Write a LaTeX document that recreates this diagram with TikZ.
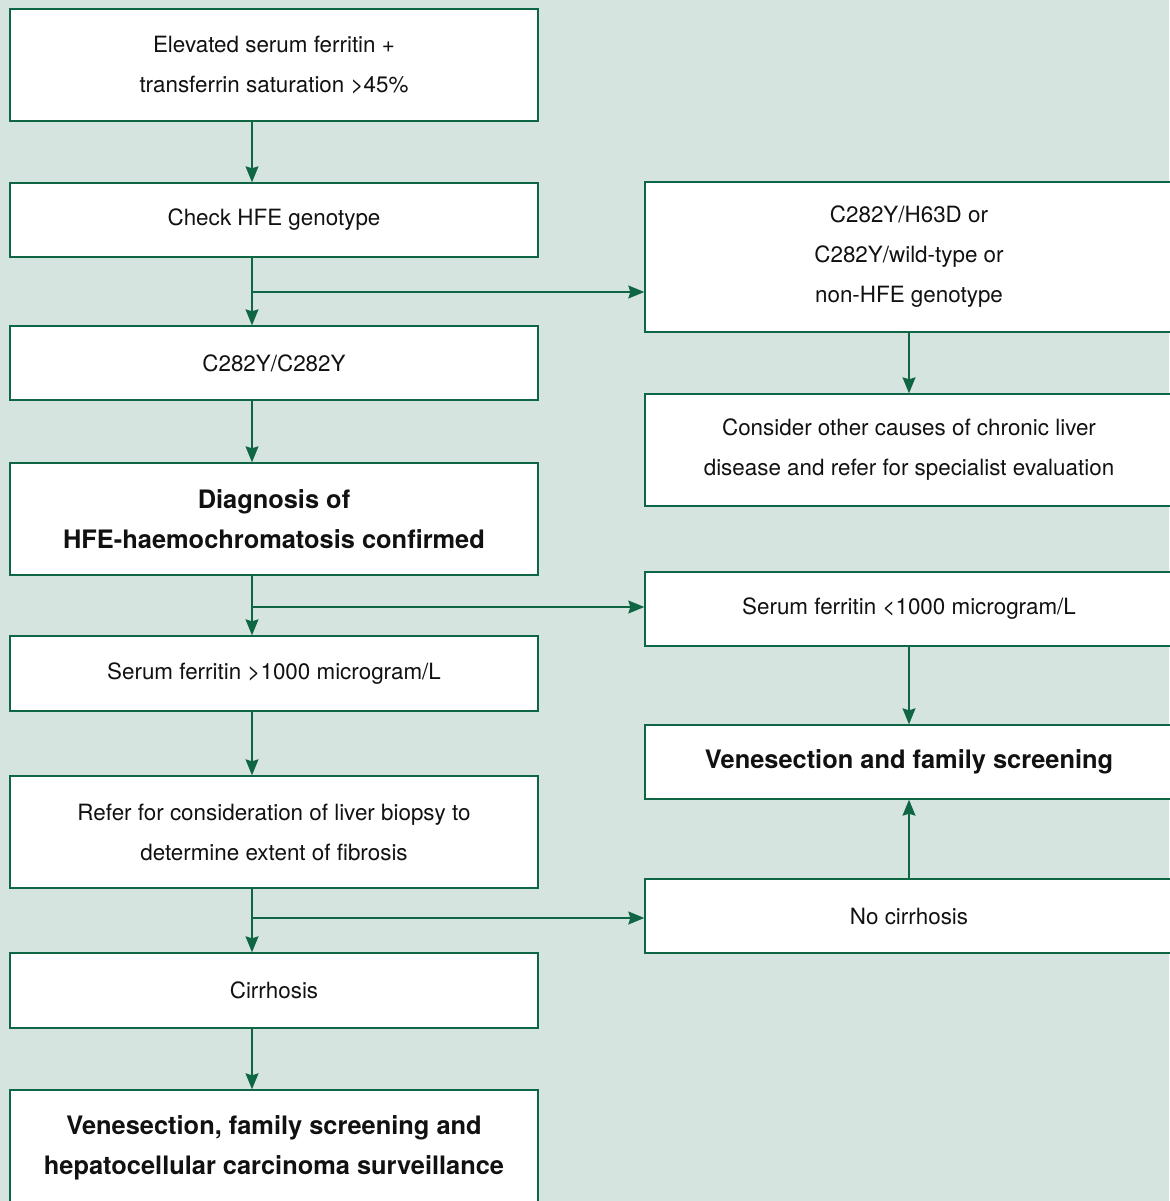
\documentclass[tikz,border=0pt]{standalone}
\usepackage{fontspec}
\setmainfont{TeX Gyre Heros}
\usetikzlibrary{arrows.meta,calc}
\definecolor{bg}{HTML}{D5E4DE}
\definecolor{dgreen}{HTML}{0F6645}
\definecolor{txt}{HTML}{111111}
\tikzset{
  box/.style={draw=dgreen, line width=1.4pt, fill=white, inner sep=0pt,
    minimum width=528pt, align=center, text=txt,
    font=\fontsize{22.4}{40}\selectfont},
  rbox/.style={box, minimum width=528pt},
  boldbox/.style={font=\fontsize{25.4}{40}\selectfont\bfseries},
  conn/.style={draw=dgreen, line width=1.3pt, -{Stealth[length=16pt,width=13pt,inset=2pt]}}
}
\begin{document}
\begin{tikzpicture}[x=1pt,y=-1pt]
\fill[bg] (0,0) rectangle (1169,1201);
\useasboundingbox (0,0) rectangle (1169,1201);
% left column
\node[box, minimum height=112pt] (l1) at (274,65) {Elevated serum ferritin +\\transferrin saturation >45\%};
\node[box, minimum height=74pt] (l2) at (274,220) {Check HFE genotype};
\node[box, minimum height=74pt] (l3) at (274,363) {C282Y/C282Y};
\node[box, boldbox, minimum height=112pt] (l4) at (274,519) {Diagnosis of\\HFE-haemochromatosis confirmed};
\node[box, minimum height=75pt] (l5) at (274,673.5) {Serum ferritin >1000 microgram/L};
\node[box, minimum height=112pt] (l6) at (274,832) {Refer for consideration of liver biopsy to\\determine extent of fibrosis};
\node[box, minimum height=75pt] (l7) at (274,990.5) {Cirrhosis};
\node[box, boldbox, minimum height=116pt] (l8) at (274,1148) {Venesection, family screening and\\hepatocellular carcinoma surveillance};
% right column
\node[rbox, minimum height=150pt] (r1) at (909,257) {C282Y/H63D or\\C282Y/wild-type or\\non-HFE genotype};
\node[rbox, minimum height=112pt] (r2) at (909,450) {Consider other causes of chronic liver\\disease and refer for specialist evaluation};
\node[rbox, minimum height=74pt] (r3) at (909,609) {Serum ferritin <1000 microgram/L};
\node[rbox, boldbox, minimum height=74pt] (r4) at (909,762) {Venesection and family screening};
\node[rbox, minimum height=74pt] (r5) at (909,916) {No cirrhosis};
% connectors
\coordinate (lx) at (252,0);
\draw[conn] (l1.south -| lx) -- (l2.north -| lx);
\draw[conn] (l2.south -| lx) -- (l3.north -| lx);
\draw[conn] (l3.south -| lx) -- (l4.north -| lx);
\draw[conn] (l4.south -| lx) -- (l5.north -| lx);
\draw[conn] (l5.south -| lx) -- (l6.north -| lx);
\draw[conn] (l6.south -| lx) -- (l7.north -| lx);
\draw[conn] (l7.south -| lx) -- (l8.north -| lx);
\coordinate (j1) at (252,292);
\coordinate (j2) at (252,607);
\coordinate (j3) at (252,918);
\draw[conn] (j1) -- (j1 -| r1.west);
\draw[conn] (j2) -- (j2 -| r3.west);
\draw[conn] (j3) -- (j3 -| r5.west);
\draw[conn] (r1.south) -- (r2.north);
\draw[conn] (r3.south) -- (r4.north);
\draw[conn] (r5.north) -- (r4.south);
\end{tikzpicture}
\end{document}
